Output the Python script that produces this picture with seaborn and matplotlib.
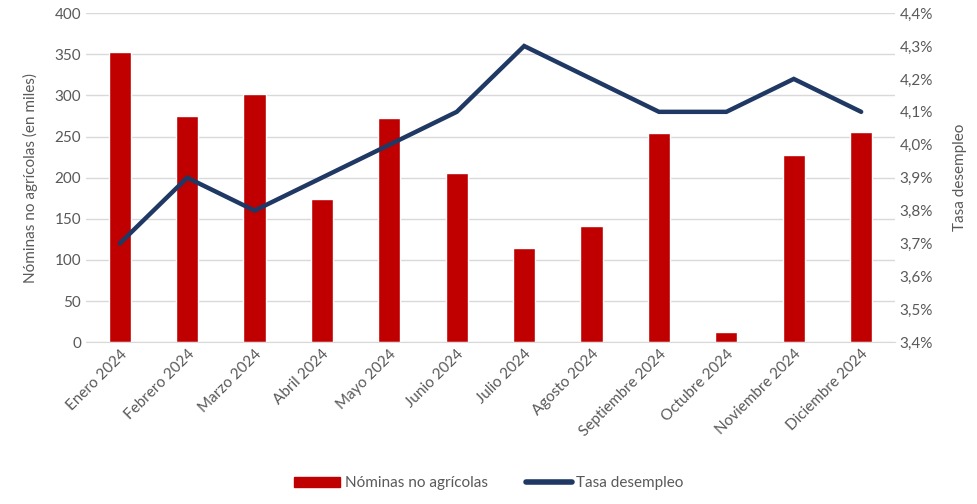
import numpy as np
import pandas as pd
import matplotlib
matplotlib.use('Agg')
import matplotlib.pyplot as plt
import seaborn as sns
from matplotlib.patches import Patch
from matplotlib.lines import Line2D

# datos
meses = ['Enero 2024', 'Febrero 2024', 'Marzo 2024', 'Abril 2024', 'Mayo 2024', 'Junio 2024',
         'Julio 2024', 'Agosto 2024', 'Septiembre 2024', 'Octubre 2024', 'Noviembre 2024', 'Diciembre 2024']
nominas = [353, 275, 302, 174, 272, 206, 114, 141, 254, 12, 228, 256]
tasa = [3.7, 3.9, 3.8, 3.9, 4.0, 4.1, 4.3, 4.2, 4.1, 4.1, 4.2, 4.1]

df = pd.DataFrame({'mes': meses, 'nominas': nominas, 'tasa': tasa})

sns.set_style('white')
plt.rcParams['font.family'] = ['Lato', 'DejaVu Sans']
gris = '#595959'
rojo = '#c00000'
azul = '#1f3864'

fig, ax = plt.subplots(figsize=(9.78, 5.04), dpi=100)
fig.subplots_adjust(left=0.088, right=0.915, top=0.974, bottom=0.321)

sns.barplot(data=df, x='mes', y='nominas', color=rojo, width=0.33, saturation=1, ax=ax, zorder=2)
ax.set_ylim(0, 400)
ax.set_yticks(range(0, 401, 50))
ax.set_xlim(-0.5, len(meses) - 0.5)
ax.grid(axis='y', color='#d9d9d9', linewidth=1, zorder=0)
ax.set_axisbelow(True)
ax.set_ylabel('Nóminas no agrícolas (en miles)', color=gris, fontsize=11, labelpad=12)
ax.set_xlabel('')
ax.tick_params(axis='both', colors=gris, labelsize=11, length=0)
ax.set_xticks(range(len(meses)))
ax.set_xticklabels(meses, rotation=45, ha='right', rotation_mode='anchor')
for s in ['top', 'right', 'left']:
    ax.spines[s].set_visible(False)
ax.spines['bottom'].set_color('#d9d9d9')

ax2 = ax.twinx()
sns.lineplot(x=np.arange(len(meses)), y=tasa, color=azul, linewidth=3.2, ax=ax2,
             solid_capstyle='round', solid_joinstyle='miter')
ax2.set_ylim(3.4, 4.4)
ticks = np.round(np.arange(3.4, 4.41, 0.1), 1)
ax2.set_yticks(ticks)
ax2.set_yticklabels([f'{t:.1f}%'.replace('.', ',') for t in ticks])
ax2.set_ylabel('Tasa desempleo', color=gris, fontsize=11, rotation=90, labelpad=14)
ax2.tick_params(axis='y', colors=gris, labelsize=11, length=0)
for s in ax2.spines.values():
    s.set_visible(False)

handles = [Patch(color=rojo, label='Nóminas no agrícolas'),
           Line2D([0], [0], color=azul, linewidth=4, solid_capstyle='round', label='Tasa desempleo')]
leg = fig.legend(handles=handles, loc='lower center', ncol=2, frameon=False, fontsize=11,
                 bbox_to_anchor=(0.5, 0.0), handlelength=3.0, columnspacing=2.5, handletextpad=0.3)
for t in leg.get_texts():
    t.set_color(gris)

fig.savefig('out.png', dpi=100)
